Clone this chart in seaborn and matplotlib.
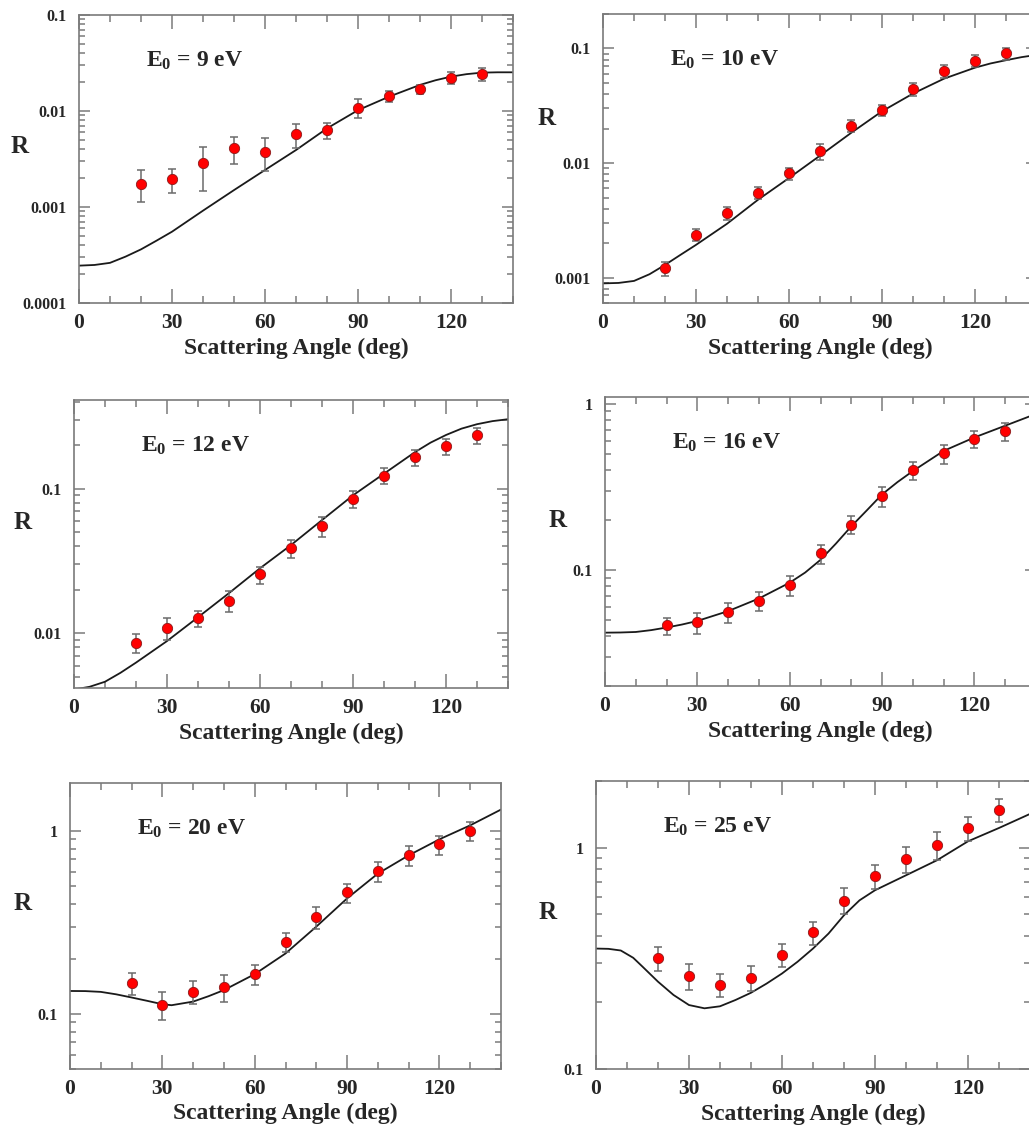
import numpy as np
import pandas as pd
import matplotlib
matplotlib.use("Agg")
import matplotlib.pyplot as plt
from matplotlib.ticker import LogLocator, MultipleLocator, FixedLocator, FixedFormatter, NullFormatter
import seaborn as sns

# ---------------- data ----------------
angles = [20, 30, 40, 50, 60, 70, 80, 90, 100, 110, 120, 130]

# E0 = 9 eV
r9 = [0.00175, 0.00194, 0.00285, 0.00408, 0.00377, 0.00575, 0.00639, 0.0108, 0.0142, 0.0170, 0.0222, 0.0245]
r9_hi = [0.00241, 0.00247, 0.00422, 0.00532, 0.00519, 0.00732, 0.00756, 0.0132, 0.0163, 0.0188, 0.0253, 0.0278]
r9_lo = [0.00113, 0.00141, 0.00148, 0.00281, 0.00239, 0.00415, 0.00507, 0.00853, 0.0124, 0.0149, 0.0191, 0.0205]
c9_x = [0, 5, 10, 15, 20, 25, 30, 40, 50, 60, 70, 80, 90, 100, 110, 115, 120, 125, 130, 135, 140]
c9_y = [0.000245, 0.000249, 0.000262, 0.000304, 0.000362, 0.000446, 0.000553, 0.000916, 0.00150, 0.00243,
        0.00392, 0.00659, 0.0102, 0.0141, 0.0187, 0.0209, 0.0228, 0.0242, 0.0251, 0.0253, 0.0253]

# E0 = 10 eV
r10 = [0.00121, 0.00236, 0.00363, 0.00547, 0.00813, 0.01265, 0.0212, 0.0291, 0.0444, 0.0634, 0.0785, 0.0910]
r10_hi = [0.00138, 0.00267, 0.00410, 0.00613, 0.00904, 0.01456, 0.0239, 0.0324, 0.0501, 0.0715, 0.0874, 0.1007]
r10_lo = [0.00103, 0.00209, 0.00319, 0.00488, 0.00714, 0.01069, 0.0185, 0.0256, 0.0383, 0.0547, 0.0692, 0.0791]
c10_x = [0, 5, 10, 15, 20, 25, 30, 40, 50, 60, 70, 80, 90, 100, 110, 120, 125, 130, 135, 140]
c10_y = [0.00089, 0.000898, 0.000935, 0.00107, 0.00129, 0.00158, 0.00193, 0.00295, 0.00478, 0.0074,
         0.0116, 0.0183, 0.0283, 0.0404, 0.0545, 0.068, 0.074, 0.079, 0.084, 0.088]

# E0 = 12 eV
r12 = [0.00863, 0.01094, 0.01274, 0.01685, 0.0257, 0.0387, 0.0551, 0.0853, 0.122, 0.165, 0.196, 0.235]
r12_hi = [0.00985, 0.01288, 0.01423, 0.01954, 0.0289, 0.0444, 0.0635, 0.0969, 0.138, 0.184, 0.220, 0.261]
r12_lo = [0.00737, 0.00896, 0.01112, 0.01400, 0.0220, 0.0330, 0.0466, 0.0741, 0.107, 0.144, 0.170, 0.205]
c12_x = [0, 5, 10, 15, 20, 30, 40, 50, 60, 70, 80, 90, 100, 110, 115, 120, 125, 130, 135, 140]
c12_y = [0.0041, 0.00428, 0.00464, 0.00535, 0.00629, 0.00886, 0.01294, 0.0190, 0.0282, 0.0408, 0.0607,
         0.090, 0.127, 0.179, 0.208, 0.235, 0.260, 0.279, 0.293, 0.302]

# E0 = 16 eV
r16 = [0.0464, 0.0486, 0.0559, 0.0649, 0.0811, 0.1256, 0.1875, 0.278, 0.400, 0.505, 0.614, 0.683]
r16_hi = [0.0517, 0.0554, 0.0628, 0.0732, 0.0924, 0.141, 0.210, 0.314, 0.447, 0.567, 0.689, 0.764]
r16_lo = [0.0408, 0.0413, 0.0482, 0.0565, 0.0696, 0.108, 0.165, 0.239, 0.348, 0.433, 0.541, 0.597]
c16_x = [0, 5, 10, 15, 20, 25, 30, 40, 50, 60, 65, 70, 75, 80, 85, 90, 95, 100, 110, 120, 130, 140]
c16_y = [0.0419, 0.0420, 0.0423, 0.0434, 0.045, 0.0469, 0.0493, 0.0565, 0.0673, 0.0838, 0.0964, 0.115,
         0.144, 0.183, 0.228, 0.285, 0.338, 0.394, 0.521, 0.628, 0.739, 0.87]

# E0 = 20 eV
r20 = [0.1476, 0.112, 0.1318, 0.1404, 0.1646, 0.248, 0.338, 0.465, 0.608, 0.736, 0.846, 0.996]
r20_hi = [0.1667, 0.131, 0.1507, 0.164, 0.1858, 0.278, 0.382, 0.516, 0.677, 0.828, 0.94, 1.115]
r20_lo = [0.1274, 0.0931, 0.1129, 0.116, 0.1439, 0.218, 0.293, 0.406, 0.529, 0.647, 0.743, 0.882]
c20_x = [0, 5, 10, 15, 20, 25, 30, 33, 40, 45, 50, 60, 70, 80, 90, 100, 110, 120, 130, 140]
c20_y = [0.1335, 0.1333, 0.132, 0.128, 0.123, 0.118, 0.113, 0.1116, 0.1168, 0.125, 0.135, 0.165,
         0.214, 0.300, 0.428, 0.585, 0.736, 0.901, 1.074, 1.31]

# E0 = 25 eV
r25 = [0.317, 0.262, 0.240, 0.259, 0.327, 0.414, 0.577, 0.745, 0.892, 1.031, 1.231, 1.484]
r25_hi = [0.354, 0.297, 0.270, 0.292, 0.366, 0.462, 0.658, 0.838, 1.01, 1.18, 1.38, 1.664]
r25_lo = [0.277, 0.227, 0.211, 0.226, 0.288, 0.362, 0.499, 0.653, 0.769, 0.883, 1.075, 1.301]
c25_x = [0, 4, 8, 12, 15, 20, 25, 30, 35, 40, 45, 50, 55, 60, 65, 70, 75, 80, 85, 90, 100, 110, 120, 130, 140]
c25_y = [0.350, 0.349, 0.343, 0.318, 0.290, 0.248, 0.216, 0.1945, 0.188, 0.192, 0.205, 0.221, 0.243,
         0.270, 0.305, 0.350, 0.409, 0.495, 0.578, 0.642, 0.750, 0.877, 1.068, 1.227, 1.42]

labels = ["E$_0$ = 9 eV", "E$_0$ = 10 eV", "E$_0$ = 12 eV",
          "E$_0$ = 16 eV", "E$_0$ = 20 eV", "E$_0$ = 25 eV"]
ylims = [(1e-4, 0.1), (0.0006, 0.2), (0.0042, 0.41), (0.02, 1.1), (0.05, 1.83), (0.1, 2.0)]
yticks = [[0.0001, 0.001, 0.01, 0.1], [0.001, 0.01, 0.1], [0.01, 0.1],
          [0.1, 1], [0.1, 1], [0.1, 1]]
yticklabels = [["0.0001", "0.001", "0.01", "0.1"], ["0.001", "0.01", "0.1"], ["0.01", "0.1"],
               ["0.1", "1"], ["0.1", "1"], ["0.1", "1"]]

panels = [
    (r9, r9_hi, r9_lo, c9_x, c9_y),
    (r10, r10_hi, r10_lo, c10_x, c10_y),
    (r12, r12_hi, r12_lo, c12_x, c12_y),
    (r16, r16_hi, r16_lo, c16_x, c16_y),
    (r20, r20_hi, r20_lo, c20_x, c20_y),
    (r25, r25_hi, r25_lo, c25_x, c25_y),
]

# ---------------- layout (pixels) ----------------
W, H = 1029, 1127
boxes = [  # left, right, top, bottom
    (79, 513, 15, 303),
    (603, 1037, 14, 303),
    (74, 508, 400, 688),
    (605, 1036, 397, 686),
    (70, 501, 783, 1069),
    (596, 1030, 781, 1069),
]
rlabel_pos = [(-0.136, 0.542), (-0.131, 0.64), (-0.118, 0.573),
              (-0.109, 0.574), (-0.109, 0.577), (-0.111, 0.545)]

sns.set_theme(style="ticks")
plt.rcParams["font.family"] = ["Liberation Serif", "DejaVu Serif"]
plt.rcParams["font.weight"] = "bold"
plt.rcParams["mathtext.fontset"] = "custom"
plt.rcParams["mathtext.rm"] = "Liberation Serif:bold"
plt.rcParams["mathtext.it"] = "Liberation Serif:bold"
plt.rcParams["mathtext.bf"] = "Liberation Serif:bold"

frame_col = "#7a7a7a"
fig = plt.figure(figsize=(W / 100, H / 100), dpi=100)
fig.patch.set_facecolor("white")

for i, (r, rhi, rlo, cx, cy) in enumerate(panels):
    l, rr, t, b = boxes[i]
    ax = fig.add_axes([l / W, 1 - b / H, (rr - l) / W, (b - t) / H])
    ax.set_facecolor("white")
    ax.set_yscale("log")

    df_c = pd.DataFrame({"angle": cx, "R": cy})
    sns.lineplot(data=df_c, x="angle", y="R", ax=ax, color="#1a1a1a", lw=1.3,
                 estimator=None, sort=False)

    r_a = np.array(r)
    yerr = np.vstack([r_a - np.array(rlo), np.array(rhi) - r_a])
    ax.errorbar(angles, r_a, yerr=yerr, fmt="none", ecolor="#6b6b6b",
                elinewidth=1.1, capsize=3.2, capthick=1.1, zorder=3)
    df_p = pd.DataFrame({"angle": angles, "R": r})
    sns.scatterplot(data=df_p, x="angle", y="R", ax=ax, color="#ff0000",
                    edgecolor="#8b1a1a", linewidth=0.6, s=55, zorder=4)

    ax.set_xlim(0, 140)
    ax.set_ylim(*ylims[i])
    ax.xaxis.set_major_locator(MultipleLocator(30))
    ax.xaxis.set_minor_locator(MultipleLocator(10))
    ax.yaxis.set_major_locator(FixedLocator(yticks[i]))
    ax.yaxis.set_major_formatter(FixedFormatter(yticklabels[i]))
    ax.yaxis.set_minor_locator(LogLocator(base=10, subs=np.arange(2, 10)))
    ax.yaxis.set_minor_formatter(NullFormatter())

    ax.tick_params(axis="both", which="both", direction="in", top=True, right=True,
                   color=frame_col)
    ax.tick_params(axis="x", which="major", length=10, width=1.1, labelsize=15.5, pad=7)
    ax.tick_params(axis="x", which="minor", length=5, width=1.1)
    ax.tick_params(axis="y", which="major", length=8, width=1.1, labelsize=11.5, pad=9)
    ax.tick_params(axis="y", which="minor", length=4, width=1.1)
    for lab in ax.get_xticklabels() + ax.get_yticklabels():
        lab.set_fontweight("bold")
    for sp in ax.spines.values():
        sp.set_color(frame_col)
        sp.set_linewidth(1.2)

    ax.set_xlabel("Scattering Angle (deg)", fontsize=17, fontweight="bold")
    ax.xaxis.set_label_coords(0.5, -0.157)
    ax.xaxis.label.set_va("center")
    ax.set_ylabel("R", fontsize=18, fontweight="bold", rotation=0)
    ax.yaxis.set_label_coords(*rlabel_pos[i])
    ax.yaxis.label.set_va("center")
    ax.yaxis.label.set_ha("center")

    ax.text(0.155, 0.84, labels[i], transform=ax.transAxes, fontsize=17,
            fontweight="bold", ha="left", va="center")

fig.savefig("out.png", dpi=100, facecolor="white")
